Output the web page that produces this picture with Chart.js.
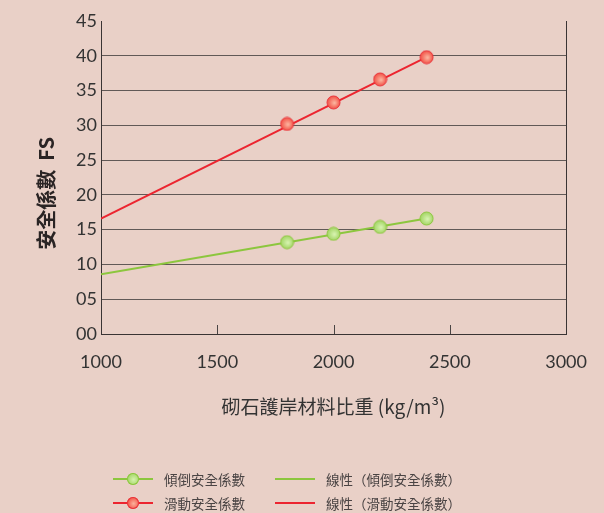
<!DOCTYPE html>
<html lang="zh-Hant">
<head>
  <meta charset="UTF-8" />
  <title>安全係數</title>
  <script src="https://cdn.jsdelivr.net/npm/chart.js"></script>
  <style>
    body {
      margin: 0;
      background-color: #e9d0c7;
    }
    .wrap {
      position: relative;
      width: 604px;
      height: 513px;
    }
    .legend {
      position: absolute;
      left: 113px;
      top: 467px;
      display: grid;
      grid-template-columns: 162px 220px;
      grid-auto-rows: 24px;
      font-family: "Noto Sans CJK TC", sans-serif;
      font-size: 13.5px;
      color: #4a4444;
    }
    .legend .item { display: flex; align-items: center; }
    .legend .sym { position: relative; width: 40px; height: 14px; margin-right: 11px; }
    .legend .sym .ln { position: absolute; left: 0; right: 0; top: 6px; height: 2px; }
    .legend .sym .dot { position: absolute; left: 14px; top: 1px; width: 12px; height: 12px; border-radius: 50%; }
  </style>
</head>
<body>
<div class="wrap">
  <canvas id="fsChart" width="604" height="513"></canvas>
  <div class="legend" id="legend"></div>
</div>

<script>
  // data
  const densities = [1800, 2000, 2200, 2400];
  const overturnFS = [13.2, 14.4, 15.4, 16.6];
  const slidingFS = [30.2, 33.3, 36.6, 39.8];
  const trendX = [1000, 2400];
  const overturnTrend = [8.6, 16.6];
  const slidingTrend = [16.6, 39.8];
  const xTicks = [1000, 1500, 2000, 2500, 3000];
  const yTickLabels = ['00', '05', '10', '15', '20', '25', '30', '35', '40', '45'];

  const green = '#8cc63e';
  const red = '#ec2530';

  function makeDot(fill, light, edge) {
    const c = document.createElement('canvas');
    c.width = c.height = 15;
    const g = c.getContext('2d');
    const grad = g.createRadialGradient(8.5, 8, 0.5, 7.5, 7.5, 7);
    grad.addColorStop(0, light);
    grad.addColorStop(1, fill);
    g.fillStyle = grad;
    g.beginPath();
    g.arc(7.5, 7.5, 6.5, 0, Math.PI * 2);
    g.fill();
    g.strokeStyle = edge;
    g.lineWidth = 1;
    g.stroke();
    return c;
  }
  const greenDot = makeDot('#9fd35f', '#d6f2ae', '#8cc63e');
  const redDot = makeDot('#f2493f', '#fbb29c', '#e8333a');

  const pts = (xs, ys) => xs.map((x, i) => ({ x: x, y: ys[i] }));

  // inward tick marks on the x axis
  const innerTicks = {
    id: 'innerTicks',
    beforeDatasetsDraw(chart) {
      const sx = chart.scales.x;
      const ctx = chart.ctx;
      const bottom = chart.chartArea.bottom;
      ctx.save();
      ctx.strokeStyle = '#4a4444';
      ctx.lineWidth = 1;
      xTicks.slice(1, -1).forEach(v => {
        const px = Math.round(sx.getPixelForValue(v)) + 0.5;
        ctx.beginPath();
        ctx.moveTo(px, bottom);
        ctx.lineTo(px, bottom - 9);
        ctx.stroke();
      });
      ctx.restore();
    }
  };

  new Chart(document.getElementById('fsChart'), {
    type: 'scatter',
    data: {
      datasets: [
        { label: '傾倒安全係數', data: pts(densities, overturnFS), pointStyle: greenDot, showLine: false },
        { label: '滑動安全係數', data: pts(densities, slidingFS), pointStyle: redDot, showLine: false },
        { label: '線性（傾倒安全係數）', data: pts(trendX, overturnTrend), showLine: true,
          borderColor: green, borderWidth: 2, pointRadius: 0 },
        { label: '線性（滑動安全係數）', data: pts(trendX, slidingTrend), showLine: true,
          borderColor: red, borderWidth: 2, pointRadius: 0 }
      ]
    },
    options: {
      responsive: false,
      animation: false,
      layout: { padding: { left: 0, right: 34, top: 21, bottom: 0 } },
      plugins: { legend: { display: false }, tooltip: { enabled: false } },
      scales: {
        x: {
          type: 'linear',
          min: 1000, max: 3000,
          afterBuildTicks: s => { s.ticks = xTicks.map(v => ({ value: v })); },
          afterFit: s => { s.height = 179; },
          border: { color: '#3a3434', width: 1 },
          grid: {
            drawTicks: false,
            color: c => c.tick && c.tick.value === 3000 ? '#3a3434' : 'transparent'
          },
          ticks: {
            padding: 17,
            autoSkip: false,
            maxRotation: 0,
            color: '#333',
            font: { family: 'Lato', size: 18 },
            callback: v => String(v)
          },
          title: {
            display: true,
            text: '砌石護岸材料比重 (kg/m³)',
            color: '#333',
            font: { family: '"Noto Sans CJK TC", sans-serif', size: 19 },
            padding: { top: 0, bottom: 95 }
          }
        },
        y: {
          min: 0, max: 45,
          ticks: {
            stepSize: 5,
            padding: 4,
            color: '#333',
            font: { family: 'Lato', size: 18 },
            callback: (v, i) => yTickLabels[i]
          },
          afterFit: s => { s.width = 101; },
          border: { color: '#3a3434', width: 1 },
          grid: {
            drawTicks: false,
            color: c => c.tick && (c.tick.value === 45 || c.tick.value === 0) ? 'transparent' : '#615957'
          },
          title: {
            display: true,
            text: '安全係數\u00a0\u00a0FS\u00a0\u00a0\u00a0\u00a0\u00a0\u00a0\u00a0',
            color: '#2a2424',
            font: { family: '"Noto Sans CJK TC", sans-serif', size: 20, weight: 'bold' },
            padding: { top: 34, bottom: 0 }
          }
        }
      }
    },
    plugins: [innerTicks]
  });

  // HTML legend, two columns like the original
  const legendItems = [
    { text: '傾倒安全係數', color: green, dot: 'radial-gradient(circle at 55% 55%, #d6f2ae 0, #9fd35f 75%)', edge: '#8cc63e' },
    { text: '線性（傾倒安全係數）', color: green },
    { text: '滑動安全係數', color: red, dot: 'radial-gradient(circle at 55% 55%, #fbb29c 0, #f2493f 75%)', edge: '#e8333a' },
    { text: '線性（滑動安全係數）', color: red }
  ];
  const legend = document.getElementById('legend');
  legendItems.forEach(it => {
    const item = document.createElement('div');
    item.className = 'item';
    const sym = document.createElement('span');
    sym.className = 'sym';
    const ln = document.createElement('span');
    ln.className = 'ln';
    ln.style.background = it.color;
    sym.appendChild(ln);
    if (it.dot) {
      const d = document.createElement('span');
      d.className = 'dot';
      d.style.background = it.dot;
      d.style.boxShadow = '0 0 0 1px ' + it.edge + ' inset';
      sym.appendChild(d);
    }
    const t = document.createElement('span');
    t.textContent = it.text;
    item.appendChild(sym);
    item.appendChild(t);
    legend.appendChild(item);
  });
</script>
</body>
</html>
